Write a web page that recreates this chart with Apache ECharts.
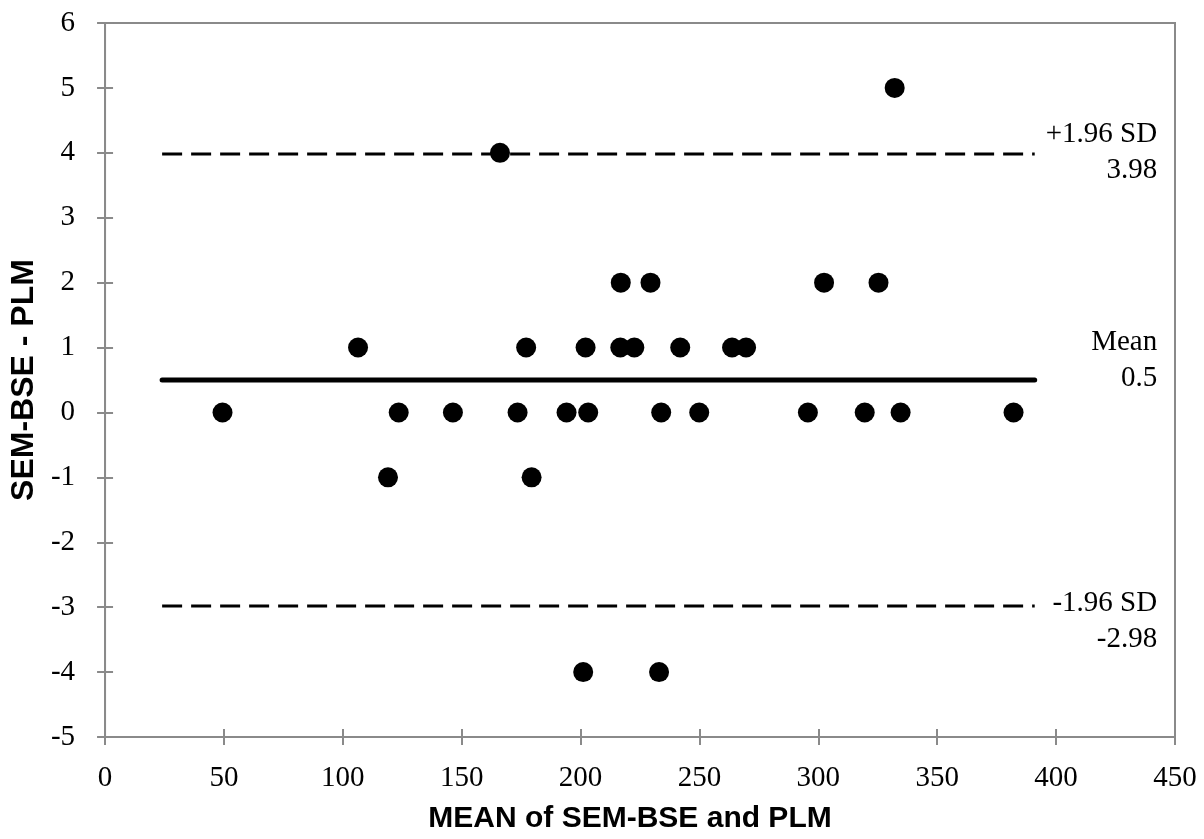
<!DOCTYPE html>
<html>
<head>
<meta charset="utf-8">
<script src="https://cdn.jsdelivr.net/npm/echarts@6/dist/echarts.min.js"></script>
<style>
html, body { margin: 0; padding: 0; background: #fff; }
#main { width: 1204px; height: 839px; }
</style>
</head>
<body>
<div id="main"></div>
<script>
// Bland-Altman data: mean of the two methods vs their difference
var meanX = [49.4, 106.4, 119.0, 123.5, 146.3, 166.1, 173.5, 177.1, 179.4, 194.1,
    201.1, 202.1, 203.2, 216.7, 216.9, 222.6, 229.4, 233.0, 233.9, 241.9,
    249.9, 263.7, 269.6, 295.6, 302.4, 319.5, 325.3, 332.1, 334.6, 382.1];
var diffY = [0, 1, -1, 0, 0, 4, 0, 1, -1, 0,
    -4, 1, 0, 1, 2, 1, 2, -4, 0, 1,
    0, 1, 1, 0, 2, 0, 2, 5, 0, 0];

var lineNames = ['+1.96 SD', 'Mean', '-1.96 SD'];
var lineValues = [3.98, 0.5, -2.98];
var lineLabels = ['3.98', '0.5', '-2.98'];
var lineFrom = 24;
var lineTo = 391;
var labelAtX = 442.5;

var axisGray = '#8a8a8a';
var serif = '"Liberation Serif", "DejaVu Serif", serif';
var sans = '"Liberation Sans", Arial, sans-serif';

var myChart = echarts.init(document.getElementById('main'));

var points = meanX.map(function (x, i) {
    return [x, diffY[i]];
});

function limitLine(value, isMean) {
    return {
        type: 'line',
        symbol: 'none',
        silent: true,
        data: [[lineFrom, value], [lineTo, value]],
        lineStyle: isMean
            ? { color: '#000', width: 5, cap: 'round' }
            : { color: '#000', width: 3, type: [20, 9] },
        z: 1
    };
}

function axisBase(min, max, interval) {
    return {
        type: 'value',
        min: min,
        max: max,
        interval: interval,
        splitLine: { show: false }
    };
}

var xMain = axisBase(0, 450, 50);
xMain.name = 'MEAN of SEM-BSE and PLM';
xMain.nameLocation = 'middle';
xMain.nameGap = 67;
xMain.nameTextStyle = {
    fontFamily: sans, fontWeight: 'bold', fontSize: 30, color: '#000',
    padding: [0, 20, 0, 0]
};
xMain.axisLine = { onZero: false, lineStyle: { color: axisGray, width: 2 } };
xMain.axisTick = { length: 8, lineStyle: { color: axisGray, width: 2 } };
xMain.axisLabel = { margin: 27, fontFamily: serif, fontSize: 29, color: '#000' };

// second axis only draws the inner half of the crossing ticks
var xInner = axisBase(0, 450, 50);
xInner.position = 'bottom';
xInner.axisLine = { show: false, onZero: false };
xInner.axisTick = { inside: true, length: 8, lineStyle: { color: axisGray, width: 2 } };
xInner.axisLabel = { show: false };

var yMain = axisBase(-5, 6, 1);
yMain.name = 'SEM-BSE - PLM';
yMain.nameLocation = 'middle';
yMain.nameGap = 59;
yMain.nameTextStyle = { fontFamily: sans, fontWeight: 'bold', fontSize: 32, color: '#000' };
yMain.axisLine = { onZero: false, lineStyle: { color: axisGray, width: 2 } };
yMain.axisTick = { length: 8, lineStyle: { color: axisGray, width: 2 } };
yMain.axisLabel = { margin: 30, fontFamily: serif, fontSize: 29, color: '#000' };

var yInner = axisBase(-5, 6, 1);
yInner.position = 'left';
yInner.axisLine = { show: false, onZero: false };
yInner.axisTick = { inside: true, length: 8, lineStyle: { color: axisGray, width: 2 } };
yInner.axisLabel = { show: false };

option = {
    backgroundColor: '#fff',
    animation: false,
    grid: {
        left: 101,
        right: 29,
        top: 23,
        bottom: 101,
        show: true,
        borderColor: axisGray,
        borderWidth: 2
    },
    xAxis: [xMain, xInner],
    yAxis: [yMain, yInner],
    series: [
        limitLine(lineValues[0], false),
        limitLine(lineValues[1], true),
        limitLine(lineValues[2], false),
        {
            type: 'scatter',
            data: points,
            symbol: 'circle',
            symbolSize: 20,
            itemStyle: { color: '#000', opacity: 1 },
            z: 3
        }
    ]
};

myChart.setOption(option);

// labels right of each horizontal line
var labelShift = [-2, -20, 16];
var graphics = lineValues.map(function (v, i) {
    var p = myChart.convertToPixel({ gridIndex: 0 }, [labelAtX, v]);
    return {
        type: 'text',
        x: p[0],
        y: p[1] + labelShift[i],
        silent: true,
        style: {
            text: lineNames[i] + '\n' + lineLabels[i],
            font: '29px ' + serif,
            fill: '#000',
            align: 'right',
            verticalAlign: 'middle',
            lineHeight: 36
        }
    };
});
myChart.setOption({ graphic: graphics });
</script>
</body>
</html>
